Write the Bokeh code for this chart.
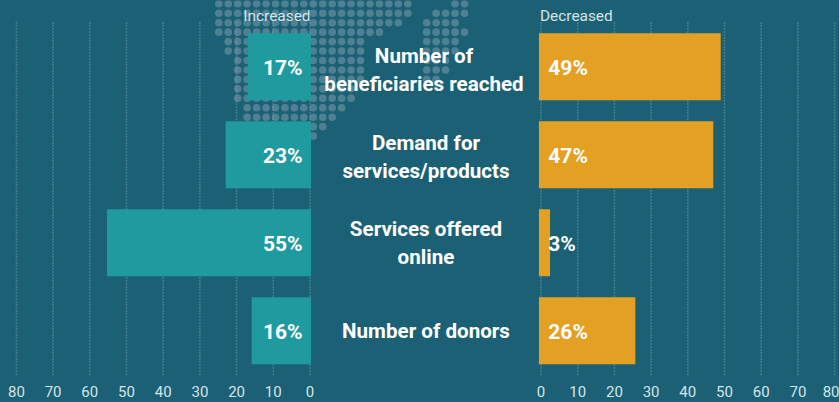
from bokeh.embed import file_html
from bokeh.resources import INLINE
from bokeh.plotting import figure
from bokeh.layouts import row
from bokeh.models import Range1d, FixedTicker, ColumnDataSource
from bokeh.core.properties import value

categories = ["Number of\nbeneficiaries reached", "Demand for\nservices/products", "Services offered\nonline", "Number of donors"]
increased = [17, 23, 55, 16]
decreased = [49, 47, 3, 26]
ticks = [0, 10, 20, 30, 40, 50, 60, 70, 80]
header_left = "Increased"
header_right = "Decreased"

# decorative dotted map: (first, last) dot column for each row
map_rows = [[(0, 20), (25, 26)], [(0, 20), (23, 26)], [(0, 19), (22, 25)], [(0, 17), (22, 26)],
            [(1, 15), (22, 25)], [(1, 15), (22, 25)], [(2, 15), (22, 24)], [(2, 15), (22, 24)],
            [(2, 15), (22, 23)], [(2, 14)], [(2, 14)], [(3, 13)], [(3, 12)], [(9, 11)], [(10, 10)]]

BG = "#1c6075"
TEAL = "#1f9a9f"
ORANGE = "#e3a023"
GRID = "#86a9b5"
DOT = "#4f8193"
TXT = "#d5e4e9"
FONT = "Roboto"
FULL_H, BOTTOM = 402, 27
FRAME_H = FULL_H - BOTTOM
LEFT_W, RIGHT_W = 532, 307
PITCH, TOP_C = 88.0, 66.2
BAR_H = 67 / PITCH
GRID_TOP, GRID_BOTTOM = 22, 374

ys = list(range(len(categories)))
y_range = lambda: Range1d(ys[0] + (FRAME_H - TOP_C) / PITCH, ys[0] - TOP_C / PITCH)


def base(width, x_range, extra_bars):
    p = figure(width=width, height=FULL_H, x_range=x_range, y_range=y_range(), tools="",
               output_backend="svg", toolbar_location=None, min_border=0,
               min_border_bottom=BOTTOM, min_border_left=0, min_border_right=0, min_border_top=0,
               background_fill_color=BG, border_fill_color=BG,
               styles={"background-color": BG})
    p.outline_line_color = BG
    p.outline_line_width = 2
    p.extra_x_ranges = {"bars": extra_bars}
    p.extra_y_ranges = {"px": Range1d(FRAME_H, 0)}
    p.grid.visible = False
    p.yaxis.visible = False
    ax = p.xaxis[0]
    ax.ticker = FixedTicker(ticks=ticks)
    ax.axis_line_color = None
    ax.major_tick_line_color = None
    ax.minor_tick_line_color = None
    ax.major_label_text_color = TXT
    ax.major_label_text_font = FONT
    ax.major_label_text_font_size = "15px"
    ax.major_label_standoff = 4
    return p


# scales: axis 3.67 px per unit, bars 3.71 px per unit
def lin(v0_px, scale, px, sign):
    return sign * (px - v0_px) / scale


AX_L, AX_R, BAR_L, BAR_R = 309.5, 540.5, 310.5, 538.4
AX_S, BAR_S = 3.67, 3.71

pl = base(LEFT_W, Range1d(lin(AX_L, AX_S, 0, -1), lin(AX_L, AX_S, LEFT_W, -1)),
          Range1d(lin(BAR_L, BAR_S, 0, -1), lin(BAR_L, BAR_S, LEFT_W, -1)))
pr = base(RIGHT_W, Range1d(lin(AX_R, AX_S, LEFT_W, 1), lin(AX_R, AX_S, LEFT_W + RIGHT_W, 1)),
          Range1d(lin(BAR_R, BAR_S, LEFT_W, 1), lin(BAR_R, BAR_S, LEFT_W + RIGHT_W, 1)))
pl.extra_x_ranges["px"] = Range1d(0, LEFT_W)
pr.extra_x_ranges["px"] = Range1d(LEFT_W, LEFT_W + RIGHT_W)

# map
dx, dy = [], []
for r, spans in enumerate(map_rows):
    for a, b in spans:
        for c in range(a, b + 1):
            dx.append(218.3 + 9.45 * c)
            dy.append(3.3 + 9.45 * r)
pl.scatter(dx, dy, size=7.6, marker="circle", fill_color=DOT, line_color=None,
           x_range_name="px", y_range_name="px")

# grid and bars
for p, vals, color in ((pl, increased, TEAL), (pr, decreased, ORANGE)):
    p.segment(x0=ticks, x1=ticks, y0=[GRID_TOP] * len(ticks), y1=[GRID_BOTTOM] * len(ticks),
              y_range_name="px", line_color=GRID, line_width=1.5, line_dash="1 2", line_alpha=0.8)
    p.hbar(y=ys, left=0, right=vals, height=BAR_H, fill_color=color, line_color=None,
           x_range_name="bars")

# value labels
pl.text(x=[0] * 4, y=ys, text=[f"{v}%" for v in increased], x_offset=-8.5, y_offset=1, x_range_name="bars",
        text_align="right", text_baseline="middle", text_color="white", text_font=value(FONT),
        text_font_style="bold", text_font_size="21px")
pr.text(x=[0] * 4, y=ys, text=[f"{v}%" for v in decreased], x_offset=9.4, y_offset=1, x_range_name="bars",
        text_align="left", text_baseline="middle", text_color="white", text_font=value(FONT),
        text_font_style="bold", text_font_size="21px")

# category labels
src = ColumnDataSource(dict(x=[425.5] * 4, y=ys, t=categories, xoff=[-2, 0, 0, 0], off=[3, 2, 0, 0]))
pl.text(x="x", y="y", text="t", x_offset="xoff", y_offset="off", source=src, x_range_name="px",
        text_align="center", text_baseline="middle", text_color="white", text_font=value(FONT),
        text_font_style="bold", text_font_size="20.6px", text_line_height=1.17)

# headers
pl.text(x=[310], y=[15], text=[header_left], x_range_name="px", y_range_name="px", text_align="right",
        text_baseline="middle", text_color=TXT, text_font=value(FONT), text_font_size="15.4px")
pr.text(x=[539.5], y=[15], text=[header_right], x_range_name="px", y_range_name="px", text_align="left",
        text_baseline="middle", text_color=TXT, text_font=value(FONT), text_font_size="15.4px")

layout = row(pl, pr, spacing=0, styles={"background-color": BG})
open("out.html", "w").write(file_html(layout, INLINE))
